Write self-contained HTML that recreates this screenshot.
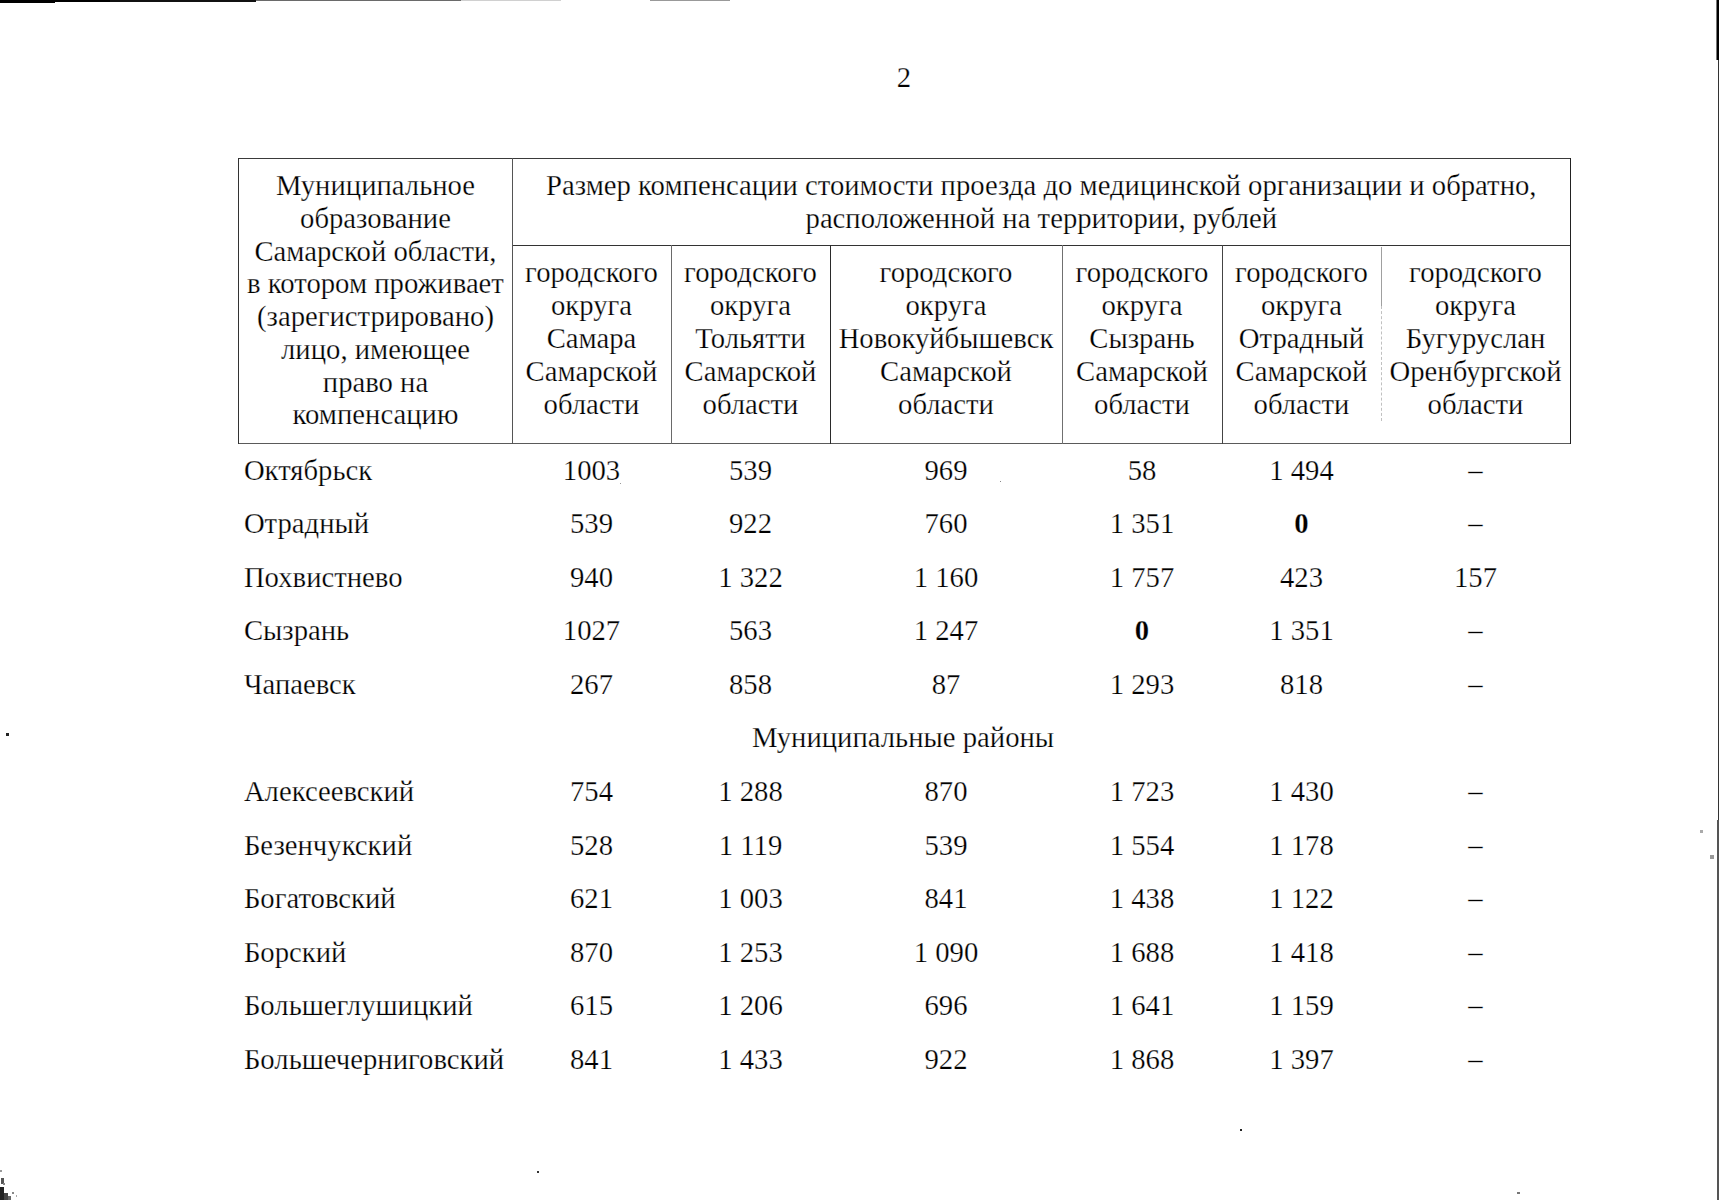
<!DOCTYPE html>
<html><head><meta charset="utf-8"><style>
html,body{margin:0;padding:0;background:#fff;}
body{width:1719px;height:1200px;position:relative;overflow:hidden;}
.c,.l{position:absolute;font-family:"Liberation Serif",serif;font-size:28.7px;line-height:0;white-space:nowrap;color:#000;-webkit-text-stroke:0.25px #fff;}
.c{text-align:center;}
.b{font-weight:bold;}
.ln{position:absolute;}
</style></head><body>
<div class="ln" style="left:238px;top:158px;width:1333px;height:1px;background:#3a3a3a"></div>
<div class="ln" style="left:512px;top:245px;width:1059px;height:1px;background:#333333"></div>
<div class="ln" style="left:238px;top:443px;width:1333px;height:1px;background:#5a5a5a"></div>
<div class="ln" style="left:238px;top:158px;width:1px;height:286px;background:#333333"></div>
<div class="ln" style="left:512px;top:158px;width:1px;height:286px;background:#555555"></div>
<div class="ln" style="left:671px;top:245px;width:1px;height:199px;background:#6a6a6a"></div>
<div class="ln" style="left:830px;top:245px;width:1px;height:199px;background:#2a2a2a"></div>
<div class="ln" style="left:1062px;top:245px;width:1px;height:199px;background:#707070"></div>
<div class="ln" style="left:1222px;top:245px;width:1px;height:199px;background:#444444"></div>
<div class="ln" style="left:1381px;top:247px;width:1px;height:59px;background:#a0a0a0"></div>
<div class="ln" style="left:1381px;top:306px;width:0;height:115px;border-left:1px dashed #c0c0c0"></div>
<div class="ln" style="left:1570px;top:158px;width:1px;height:286px;background:#222222"></div>
<div class="c" style="left:854.00px;top:76.90px;width:100px">2</div>
<div class="c" style="left:225.50px;top:185.00px;width:300px">Муниципальное</div>
<div class="c" style="left:225.50px;top:217.75px;width:300px">образование</div>
<div class="c" style="left:225.50px;top:250.50px;width:300px">Самарской области,</div>
<div class="c" style="left:225.50px;top:283.25px;width:300px">в котором проживает</div>
<div class="c" style="left:225.50px;top:316.00px;width:300px">(зарегистрировано)</div>
<div class="c" style="left:225.50px;top:348.75px;width:300px">лицо, имеющее</div>
<div class="c" style="left:225.50px;top:381.50px;width:300px">право на</div>
<div class="c" style="left:225.50px;top:414.25px;width:300px">компенсацию</div>
<div class="c" style="left:491.30px;top:185.00px;width:1100px">Размер компенсации стоимости проезда до медицинской организации и обратно,</div>
<div class="c" style="left:491.30px;top:217.70px;width:1100px">расположенной на территории, рублей</div>
<div class="c" style="left:471.50px;top:272.20px;width:240px">городского</div>
<div class="c" style="left:471.50px;top:305.20px;width:240px">округа</div>
<div class="c" style="left:471.50px;top:338.20px;width:240px">Самара</div>
<div class="c" style="left:471.50px;top:371.20px;width:240px">Самарской</div>
<div class="c" style="left:471.50px;top:404.20px;width:240px">области</div>
<div class="c" style="left:630.50px;top:272.20px;width:240px">городского</div>
<div class="c" style="left:630.50px;top:305.20px;width:240px">округа</div>
<div class="c" style="left:630.50px;top:338.20px;width:240px">Тольятти</div>
<div class="c" style="left:630.50px;top:371.20px;width:240px">Самарской</div>
<div class="c" style="left:630.50px;top:404.20px;width:240px">области</div>
<div class="c" style="left:826.00px;top:272.20px;width:240px">городского</div>
<div class="c" style="left:826.00px;top:305.20px;width:240px">округа</div>
<div class="c" style="left:826.00px;top:338.20px;width:240px">Новокуйбышевск</div>
<div class="c" style="left:826.00px;top:371.20px;width:240px">Самарской</div>
<div class="c" style="left:826.00px;top:404.20px;width:240px">области</div>
<div class="c" style="left:1022.00px;top:272.20px;width:240px">городского</div>
<div class="c" style="left:1022.00px;top:305.20px;width:240px">округа</div>
<div class="c" style="left:1022.00px;top:338.20px;width:240px">Сызрань</div>
<div class="c" style="left:1022.00px;top:371.20px;width:240px">Самарской</div>
<div class="c" style="left:1022.00px;top:404.20px;width:240px">области</div>
<div class="c" style="left:1181.50px;top:272.20px;width:240px">городского</div>
<div class="c" style="left:1181.50px;top:305.20px;width:240px">округа</div>
<div class="c" style="left:1181.50px;top:338.20px;width:240px">Отрадный</div>
<div class="c" style="left:1181.50px;top:371.20px;width:240px">Самарской</div>
<div class="c" style="left:1181.50px;top:404.20px;width:240px">области</div>
<div class="c" style="left:1355.50px;top:272.20px;width:240px">городского</div>
<div class="c" style="left:1355.50px;top:305.20px;width:240px">округа</div>
<div class="c" style="left:1355.50px;top:338.20px;width:240px">Бугуруслан</div>
<div class="c" style="left:1355.50px;top:371.20px;width:240px">Оренбургской</div>
<div class="c" style="left:1355.50px;top:404.20px;width:240px">области</div>
<div class="l" style="left:243.90px;top:469.50px">Октябрьск</div>
<div class="c" style="left:491.50px;top:469.50px;width:200px">1003</div>
<div class="c" style="left:650.50px;top:469.50px;width:200px">539</div>
<div class="c" style="left:846.00px;top:469.50px;width:200px">969</div>
<div class="c" style="left:1042.00px;top:469.50px;width:200px">58</div>
<div class="c" style="left:1201.50px;top:469.50px;width:200px">1 494</div>
<div class="c" style="left:1375.50px;top:469.50px;width:200px">–</div>
<div class="l" style="left:243.90px;top:523.09px">Отрадный</div>
<div class="c" style="left:491.50px;top:523.09px;width:200px">539</div>
<div class="c" style="left:650.50px;top:523.09px;width:200px">922</div>
<div class="c" style="left:846.00px;top:523.09px;width:200px">760</div>
<div class="c" style="left:1042.00px;top:523.09px;width:200px">1 351</div>
<div class="c b" style="left:1201.50px;top:523.09px;width:200px">0</div>
<div class="c" style="left:1375.50px;top:523.09px;width:200px">–</div>
<div class="l" style="left:243.90px;top:576.68px">Похвистнево</div>
<div class="c" style="left:491.50px;top:576.68px;width:200px">940</div>
<div class="c" style="left:650.50px;top:576.68px;width:200px">1 322</div>
<div class="c" style="left:846.00px;top:576.68px;width:200px">1 160</div>
<div class="c" style="left:1042.00px;top:576.68px;width:200px">1 757</div>
<div class="c" style="left:1201.50px;top:576.68px;width:200px">423</div>
<div class="c" style="left:1375.50px;top:576.68px;width:200px">157</div>
<div class="l" style="left:243.90px;top:630.27px">Сызрань</div>
<div class="c" style="left:491.50px;top:630.27px;width:200px">1027</div>
<div class="c" style="left:650.50px;top:630.27px;width:200px">563</div>
<div class="c" style="left:846.00px;top:630.27px;width:200px">1 247</div>
<div class="c b" style="left:1042.00px;top:630.27px;width:200px">0</div>
<div class="c" style="left:1201.50px;top:630.27px;width:200px">1 351</div>
<div class="c" style="left:1375.50px;top:630.27px;width:200px">–</div>
<div class="l" style="left:243.90px;top:683.86px">Чапаевск</div>
<div class="c" style="left:491.50px;top:683.86px;width:200px">267</div>
<div class="c" style="left:650.50px;top:683.86px;width:200px">858</div>
<div class="c" style="left:846.00px;top:683.86px;width:200px">87</div>
<div class="c" style="left:1042.00px;top:683.86px;width:200px">1 293</div>
<div class="c" style="left:1201.50px;top:683.86px;width:200px">818</div>
<div class="c" style="left:1375.50px;top:683.86px;width:200px">–</div>
<div class="c" style="left:603.00px;top:737.45px;width:600px">Муниципальные районы</div>
<div class="l" style="left:243.90px;top:791.04px">Алексеевский</div>
<div class="c" style="left:491.50px;top:791.04px;width:200px">754</div>
<div class="c" style="left:650.50px;top:791.04px;width:200px">1 288</div>
<div class="c" style="left:846.00px;top:791.04px;width:200px">870</div>
<div class="c" style="left:1042.00px;top:791.04px;width:200px">1 723</div>
<div class="c" style="left:1201.50px;top:791.04px;width:200px">1 430</div>
<div class="c" style="left:1375.50px;top:791.04px;width:200px">–</div>
<div class="l" style="left:243.90px;top:844.63px">Безенчукский</div>
<div class="c" style="left:491.50px;top:844.63px;width:200px">528</div>
<div class="c" style="left:650.50px;top:844.63px;width:200px">1 119</div>
<div class="c" style="left:846.00px;top:844.63px;width:200px">539</div>
<div class="c" style="left:1042.00px;top:844.63px;width:200px">1 554</div>
<div class="c" style="left:1201.50px;top:844.63px;width:200px">1 178</div>
<div class="c" style="left:1375.50px;top:844.63px;width:200px">–</div>
<div class="l" style="left:243.90px;top:898.22px">Богатовский</div>
<div class="c" style="left:491.50px;top:898.22px;width:200px">621</div>
<div class="c" style="left:650.50px;top:898.22px;width:200px">1 003</div>
<div class="c" style="left:846.00px;top:898.22px;width:200px">841</div>
<div class="c" style="left:1042.00px;top:898.22px;width:200px">1 438</div>
<div class="c" style="left:1201.50px;top:898.22px;width:200px">1 122</div>
<div class="c" style="left:1375.50px;top:898.22px;width:200px">–</div>
<div class="l" style="left:243.90px;top:951.81px">Борский</div>
<div class="c" style="left:491.50px;top:951.81px;width:200px">870</div>
<div class="c" style="left:650.50px;top:951.81px;width:200px">1 253</div>
<div class="c" style="left:846.00px;top:951.81px;width:200px">1 090</div>
<div class="c" style="left:1042.00px;top:951.81px;width:200px">1 688</div>
<div class="c" style="left:1201.50px;top:951.81px;width:200px">1 418</div>
<div class="c" style="left:1375.50px;top:951.81px;width:200px">–</div>
<div class="l" style="left:243.90px;top:1005.40px">Большеглушицкий</div>
<div class="c" style="left:491.50px;top:1005.40px;width:200px">615</div>
<div class="c" style="left:650.50px;top:1005.40px;width:200px">1 206</div>
<div class="c" style="left:846.00px;top:1005.40px;width:200px">696</div>
<div class="c" style="left:1042.00px;top:1005.40px;width:200px">1 641</div>
<div class="c" style="left:1201.50px;top:1005.40px;width:200px">1 159</div>
<div class="c" style="left:1375.50px;top:1005.40px;width:200px">–</div>
<div class="l" style="left:243.90px;top:1058.99px">Большечерниговский</div>
<div class="c" style="left:491.50px;top:1058.99px;width:200px">841</div>
<div class="c" style="left:650.50px;top:1058.99px;width:200px">1 433</div>
<div class="c" style="left:846.00px;top:1058.99px;width:200px">922</div>
<div class="c" style="left:1042.00px;top:1058.99px;width:200px">1 868</div>
<div class="c" style="left:1201.50px;top:1058.99px;width:200px">1 397</div>
<div class="c" style="left:1375.50px;top:1058.99px;width:200px">–</div>
<div class="ln" style="left:0px;top:0px;width:55px;height:3px;background:#000"></div>
<div class="ln" style="left:55px;top:0px;width:55px;height:2px;background:#000"></div>
<div class="ln" style="left:110px;top:0px;width:146px;height:2px;background:#111"></div>
<div class="ln" style="left:256px;top:0px;width:205px;height:1px;background:#6a6a6a"></div>
<div class="ln" style="left:461px;top:0px;width:100px;height:1px;background:#d0d0d0"></div>
<div class="ln" style="left:650px;top:0px;width:80px;height:1px;background:#999"></div>
<div class="ln" style="left:1716px;top:0px;width:1px;height:60px;background:#777"></div>
<div class="ln" style="left:1717px;top:0px;width:2px;height:60px;background:#000"></div>
<div class="ln" style="left:1718px;top:60px;width:1px;height:1140px;background:#333"></div>
<div class="ln" style="left:1717px;top:820px;width:2px;height:380px;background:#555"></div>
<div class="ln" style="left:6px;top:733px;width:3px;height:3px;background:#222"></div>
<div class="ln" style="left:537px;top:1171px;width:2px;height:2px;background:#333"></div>
<div class="ln" style="left:1240px;top:1129px;width:2px;height:2px;background:#222"></div>
<div class="ln" style="left:0px;top:1187px;width:4px;height:13px;background:#222"></div>
<div class="ln" style="left:1px;top:1178px;width:3px;height:6px;background:#555"></div>
<div class="ln" style="left:4px;top:1193px;width:4px;height:7px;background:#444"></div>
<div class="ln" style="left:8px;top:1196px;width:3px;height:4px;background:#666"></div>
<div class="ln" style="left:3px;top:1183px;width:2px;height:2px;background:#888"></div>
<div class="ln" style="left:0px;top:1170px;width:2px;height:2px;background:#999"></div>
<div class="ln" style="left:12px;top:1192px;width:2px;height:2px;background:#888"></div>
<div class="ln" style="left:16px;top:1195px;width:1px;height:2px;background:#aaa"></div>
<div class="ln" style="left:1517px;top:1192px;width:3px;height:2px;background:#777"></div>
<div class="ln" style="left:1700px;top:830px;width:3px;height:3px;background:#aaa"></div>
<div class="ln" style="left:1710px;top:855px;width:4px;height:4px;background:#999"></div>
<div class="ln" style="left:1000px;top:481px;width:1px;height:1px;background:#888"></div>
<div class="ln" style="left:620px;top:483px;width:1px;height:1px;background:#999"></div>
</body></html>
